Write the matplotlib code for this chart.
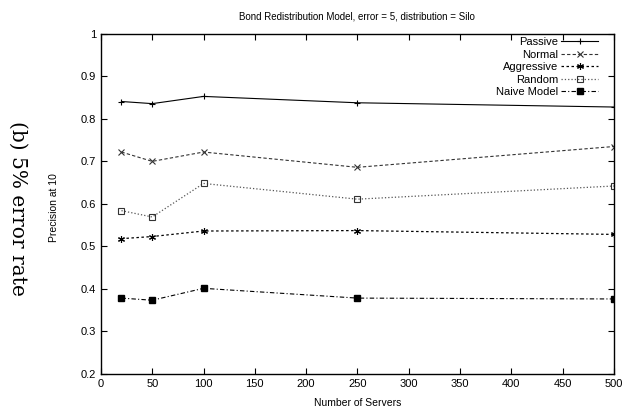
import numpy as np
import matplotlib.pyplot as plt

plt.rcParams['font.family'] = ['Liberation Sans', 'DejaVu Sans']
plt.rcParams['font.size'] = 7

servers = [20, 50, 100, 250, 500]
passive = [0.841, 0.836, 0.853, 0.838, 0.828]
normal = [0.722, 0.700, 0.722, 0.686, 0.735]
aggressive = [0.518, 0.523, 0.536, 0.537, 0.528]
random_ = [0.584, 0.569, 0.648, 0.611, 0.642]
naive = [0.378, 0.373, 0.401, 0.378, 0.376]

fig = plt.figure(figsize=(6.27, 4.12), dpi=100)
ax = fig.add_axes([0.161, 0.093, 0.818, 0.8245])

ax.plot(servers, passive, '-', color='black', lw=0.8, marker='+', ms=5, mew=0.8, label='Passive')
ax.plot(servers, normal, '--', color='#333333', lw=0.8, dashes=(3, 2), marker='x', ms=4, mew=0.8, label='Normal')
ax.plot(servers, aggressive, ':', color='black', lw=0.9, dashes=(2, 2), marker=(6, 2, 0), ms=5, mew=0.8, label='Aggressive')
ax.plot(servers, random_, ':', color='#555555', lw=0.9, marker='s', ms=4, mfc='none', mec='#333333', mew=0.8, label='Random')
ax.plot(servers, naive, '-.', color='black', lw=0.8, dashes=(4, 2, 1, 2), marker='s', ms=5, label='Naive Model')

ax.set_xlim(0, 500)
ax.set_ylim(0.2, 1.0)
ax.set_xticks(np.arange(0, 501, 50))
ax.set_yticks(np.arange(0.2, 1.01, 0.1))
ax.set_yticklabels(['0.2', '0.3', '0.4', '0.5', '0.6', '0.7', '0.8', '0.9', '1'])
ax.tick_params(direction='in', top=True, right=True, length=4, width=0.8, labelsize=8)
for s in ax.spines.values():
    s.set_linewidth(1.0)

# labels placed by hand, gnuplot style
fig.text(0.57, 0.022, 'Number of Servers', ha='center', va='center', fontsize=7.5)
fig.text(0.57, 0.959, 'Bond Redistribution Model, error = 5, distribution = Silo',
         ha='center', va='center', fontsize=7)
fig.text(0.086, 0.495, 'Precision at 10', rotation=90, ha='center', va='center', fontsize=7.5)

ax.legend(loc='upper right', bbox_to_anchor=(0.969, 0.99), frameon=False, markerfirst=False,
          fontsize=8, handlelength=3.3, labelspacing=0.22, borderaxespad=0, borderpad=0,
          handletextpad=0.3)

fig.text(0.029, 0.495, '(b) 5% error rate', rotation=270, ha='center', va='center',
         fontsize=14.5, family=['DejaVu Serif'])

fig.savefig('out.png', dpi=100)
